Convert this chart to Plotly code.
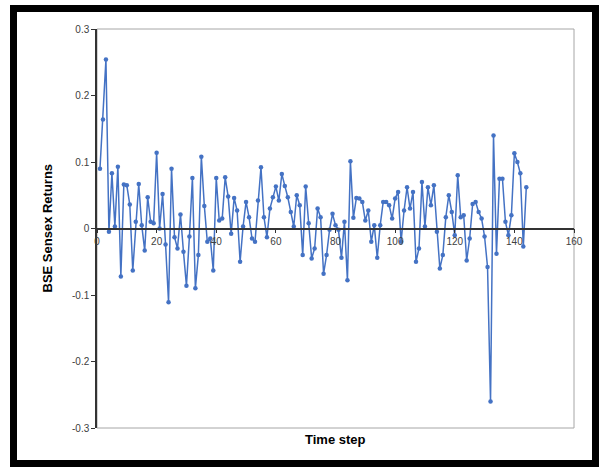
import plotly.graph_objects as go

# BSE Sensex returns per time step
returns = [
    0.090, 0.164, 0.254, -0.005, 0.083, 0.003, 0.093, -0.072, 0.066, 0.065,
    0.036, -0.063, 0.010, 0.067, 0.005, -0.033, 0.047, 0.010, 0.008, 0.114,
    0.000, 0.052, -0.024, -0.111, 0.090, -0.013, -0.030, 0.021, -0.035, -0.086,
    -0.012, 0.076, -0.090, -0.040, 0.108, 0.034, -0.020, -0.015, -0.063, 0.076,
    0.012, 0.015, 0.077, 0.048, -0.008, 0.046, 0.027, -0.050, 0.003, 0.040,
    0.017, -0.015, -0.020, 0.042, 0.092, 0.017, -0.013, 0.030, 0.047, 0.063,
    0.042, 0.082, 0.064, 0.047, 0.025, 0.003, 0.050, 0.035, -0.040, 0.063,
    0.008, -0.045, -0.030, 0.030, 0.017, -0.068, -0.040, -0.002, 0.022, 0.005,
    -0.002, -0.044, 0.010, -0.078, 0.101, 0.016, 0.046, 0.045, 0.040, 0.012,
    0.027, -0.020, 0.005, -0.044, 0.005, 0.040, 0.040, 0.035, 0.015, 0.045,
    0.055, -0.020, 0.027, 0.062, 0.030, 0.055, -0.050, -0.030, 0.070, 0.003,
    0.062, 0.035, 0.065, -0.005, -0.060, -0.040, 0.017, 0.050, 0.025, -0.010,
    0.080, 0.017, 0.020, -0.048, -0.015, 0.037, 0.040, 0.025, 0.015, -0.012,
    -0.058, -0.260, 0.140, -0.038, 0.075, 0.075, 0.010, -0.010, 0.020, 0.113,
    0.100, 0.083, -0.027, 0.062,
]
time_steps = list(range(1, len(returns) + 1))

y_tick_vals = [-0.3, -0.2, -0.1, 0, 0.1, 0.2, 0.3]
y_tick_text = ["-0.3", "-0.2", "-0.1", "0", "0.1", "0.2", "0.3"]
x_tick_vals = [0, 20, 40, 60, 80, 100, 120, 140, 160]
x_title = "Time step"
y_title = "BSE Sensex Returns"

blue = "#4472C4"
tick_font = dict(family="Liberation Sans, Arial, sans-serif", size=10, color="#404040")

fig = go.Figure()
fig.add_trace(go.Scatter(
    x=time_steps, y=returns, mode="lines+markers",
    line=dict(color=blue, width=1.5),
    marker=dict(color=blue, size=4.5, symbol="circle"),
    showlegend=False, cliponaxis=False,
))

fig.update_layout(
    width=600, height=469,
    margin=dict(l=97, r=26, t=29, b=41, autoexpand=False),
    paper_bgcolor="white", plot_bgcolor="white",
    xaxis=dict(
        range=[0, 160], tickvals=x_tick_vals, showgrid=False, zeroline=False,
        showline=True, linecolor="#333333", linewidth=1.5,
        anchor="free", position=0.5,
        ticks="outside", ticklen=4, tickcolor="#333333", tickwidth=1,
        tickfont=tick_font,
    ),
    yaxis=dict(
        range=[-0.3, 0.3], tickvals=y_tick_vals, ticktext=y_tick_text,
        showgrid=False, zeroline=False,
        showline=True, linecolor="#333333", linewidth=1.5,
        ticks="outside", ticklen=4, tickcolor="#333333", tickwidth=1,
        tickfont=tick_font,
    ),
    shapes=[
        # plot-area frame (grey)
        dict(type="rect", xref="x domain", yref="y domain", x0=0, x1=1, y0=0, y1=1,
             line=dict(color="#A6A6A6", width=1), layer="below"),
        # outer black border of the picture
        dict(type="rect", xref="paper", yref="paper",
             x0=(13.5 - 97) / 477, x1=(595.5 - 97) / 477,
             y0=(428 - 463.5) / 399, y1=(428 - 8.5) / 399,
             line=dict(color="black", width=7)),
    ],
    annotations=[
        dict(text=f"<b>{x_title}</b>", xref="paper", yref="paper",
             x=0.5, y=(428 - 439) / 399, showarrow=False,
             font=dict(family="Liberation Sans, Arial, sans-serif", size=13, color="black"),
             xanchor="center", yanchor="middle"),
        dict(text=f"<b>{y_title}</b>", xref="paper", yref="paper",
             x=(47 - 97) / 477, y=0.5, showarrow=False, textangle=-90,
             font=dict(family="Liberation Sans, Arial, sans-serif", size=13, color="black"),
             xanchor="center", yanchor="middle"),
    ],
)

fig.write_html(
    "out.html",
    config={"displayModeBar": False},
    post_script="document.body.style.margin='0';document.body.style.overflow='hidden';",
)
